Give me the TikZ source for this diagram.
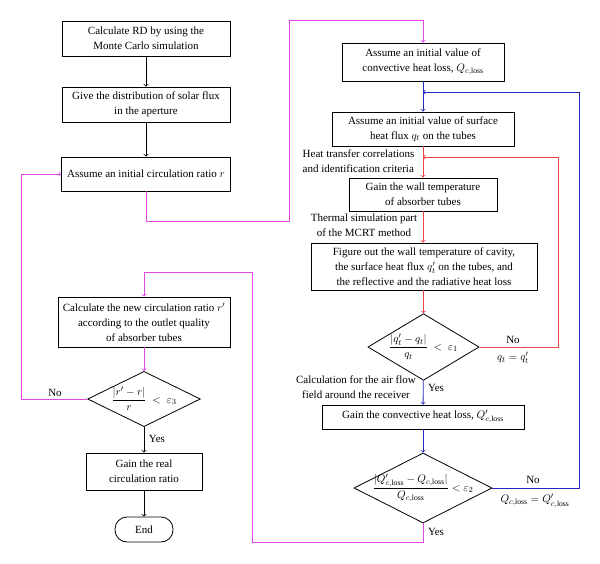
\documentclass[tikz,border=0pt]{standalone}
\usepackage{amsmath}
\usepackage{fontspec}
\setmainfont{Liberation Serif}
\usepackage{tikz}
\usetikzlibrary{shapes.geometric}
\definecolor{flowmag}{RGB}{225,70,230}
\definecolor{flowblue}{RGB}{40,40,190}
\definecolor{flowred}{RGB}{232,70,70}

\begin{document}
\begin{tikzpicture}[
    x=1pt,y=-1pt,font=\fontsize{11}{15}\selectfont,line width=0.8pt,
    box/.style={draw, align=center, inner sep=1pt},
    test/.style={draw, diamond, inner sep=0pt, align=center},
    line/.style={->}
    ]
    \useasboundingbox (0, 0) rectangle (600, 563);
    \node[box, minimum width=168, minimum height=35] (rd) at (146, 38.5) {Calculate RD by using the\\Monte Carlo simulation};
    \node[box, minimum width=168, minimum height=35] (flux) at (146, 104.5) {Give the distribution of solar flux\\in the aperture};
    \node[box, minimum width=169, minimum height=34] (ratio) at (146, 174) {Assume an initial circulation ratio $r$};
    \node[box, minimum width=172, minimum height=50] (newratio) at (144, 322) {Calculate the new circulation ratio $r'$\\according to the outlet quality\\of absorber tubes};
    \node[test, aspect=2.04, minimum width=110, minimum height=54] (chk3) at (144, 399) {$\dfrac{|r'-r|}{r}\ <\ \varepsilon_3$};
    \node[box, minimum width=116, minimum height=37] (real) at (144, 471.5) {Gain the real\\circulation ratio};
    \node[draw, rounded corners=12, minimum width=58, minimum height=25] (end) at (144, 529.5) {End};
    \node[box, minimum width=162, minimum height=38] (qloss) at (423, 62) {Assume an initial value of\\convective heat loss, $Q_{c,\mathrm{loss}}$};
    \node[box, minimum width=182, minimum height=34] (qt) at (423, 129) {Assume an initial value of surface\\heat flux $q_t$ on the tubes};
    \node[box, minimum width=148, minimum height=33] (wall) at (423, 194.5) {Gain the wall temperature\\of absorber tubes};
    \node[box, minimum width=226, minimum height=47] (cavity) at (424, 266.5) {Figure out the wall temperature of cavity,\\the surface heat flux $q_t'$ on the tubes, and\\the reflective and the radiative heat loss};
    \node[test, aspect=1.67, minimum width=97, minimum height=58] (chk1) at (423.5, 347) {$\dfrac{|q_t'-q_t|}{q_t}\ <\ \varepsilon_1$};
    \node[box, minimum width=202, minimum height=24] (conv) at (423, 417) {Gain the convective heat loss, $Q_{c,\mathrm{loss}}'$};
    \node[test, aspect=1.97, inner sep=-4pt, minimum width=138, minimum height=70] (chk2) at (423, 488) {$\dfrac{|Q_{c,\mathrm{loss}}'-Q_{c,\mathrm{loss}}|}{Q_{c,\mathrm{loss}}}<\varepsilon_2$};
    \node[anchor=west, align=left] (corr) at (299, 161) {Heat transfer correlations\\and identification criteria};
    \node[align=center] (mcrt) at (364, 225) {Thermal simulation part\\of the MCRT method};
    \node[align=center] (air) at (356, 387) {Calculation for the air flow\\field around the receiver};
    \node (no1) at (513, 340) {No};
    \node (set1) at (513, 358) {$q_t = q_t'$};
    \node (yes1) at (436, 388) {Yes};
    \node (no2) at (533, 480) {No};
    \node (set2) at (535, 501) {$Q_{c,\mathrm{loss}} = Q_{c,\mathrm{loss}}'$};
    \node (yes2) at (436, 532) {Yes};
    \node (no3) at (55, 393) {No};
    \node (yes3) at (157, 439) {Yes};
    \coordinate (m1) at (289, 221);
    \coordinate (m2) at (289, 20);
    \coordinate (m3) at (252, 542);
    \coordinate (m4) at (252, 272);
    \coordinate (m5) at (21, 174);
    \coordinate (bk) at (579, 92);
    \coordinate (rk) at (558, 157);
    \draw[line] (rd) -- (flux);
    \draw[line] (flux) -- (ratio);
    \draw[line] (chk3) -- (real);
    \draw[line] (real) -- (end);
    \draw[line, flowmag] (ratio.south) |- (m1) -- (m2) -| (qloss.north);
    \draw[line, flowmag] (chk2.south) |- (m3) -- (m4) -| (newratio.north);
    \draw[line, flowmag] (newratio) -- (chk3);
    \draw[line, flowmag] (chk3.west) -| (m5) -- (ratio.west);
    \draw[line, flowblue] (qloss) -- (qt);
    \draw[line, flowblue] (chk1) -- (conv);
    \draw[line, flowblue] (conv) -- (chk2);
    \draw[line, flowblue] (chk2.east) -| (bk) -- (bk -| qt.north);
    \draw[line, flowred] (qt) -- (wall);
    \draw[line, flowred] (wall) -- (cavity.north -| wall.south);
    \draw[line, flowred] (cavity.south -| chk1.north) -- (chk1);
    \draw[line, flowred] (chk1.east) -| (rk) -- (rk -| wall.north);
  \end{tikzpicture}
\end{document}
